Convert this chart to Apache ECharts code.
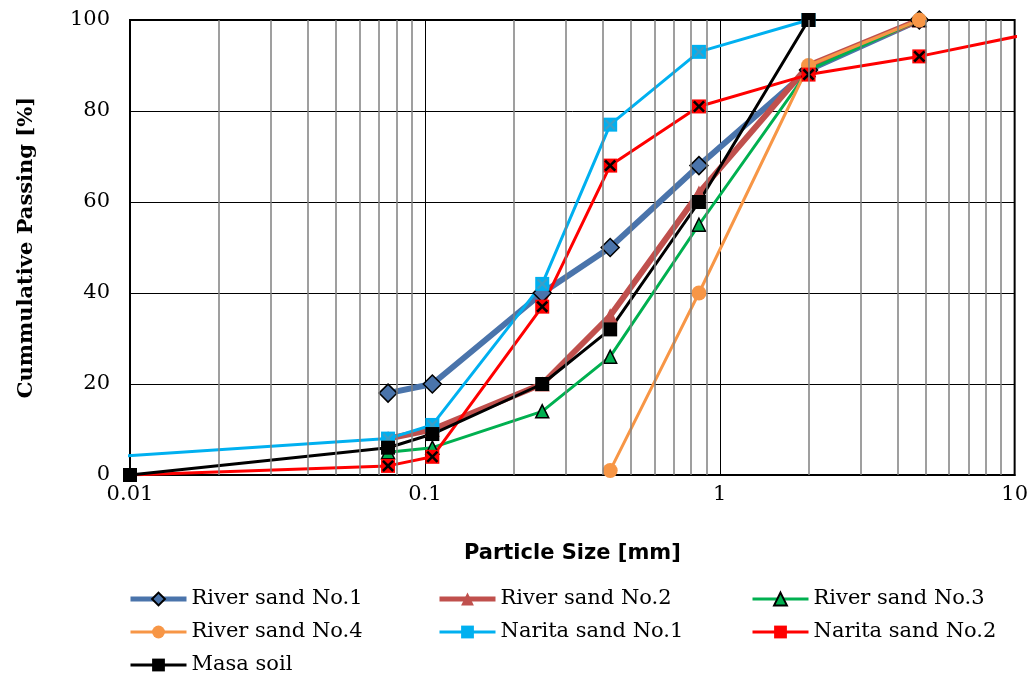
<!DOCTYPE html>
<html>
<head>
<meta charset="utf-8">
<script src="https://cdn.jsdelivr.net/npm/echarts@6/dist/echarts.min.js"></script>
<style>
  html, body { margin: 0; padding: 0; background: #fff; }
  #chart { width: 1031px; height: 686px; }
</style>
</head>
<body>
<div id="chart"></div>
<script>
// sieve sizes (mm) and passing (%)
const sieveSizes = [0.075, 0.106, 0.25, 0.425, 0.85, 2, 4.75]
const riverSand1 = [18, 20, 40, 50, 68, 89, 100]
const riverSand2 = [8, 10, 20, 35, 62, 90, 100]
const riverSand3 = [5, 6, 14, 26, 55, 89, 100]

const riverSand4Sizes = [0.425, 0.85, 2, 4.75]
const riverSand4 = [1, 40, 90, 100]

const naritaSand1Sizes = [0.001, 0.075, 0.106, 0.25, 0.425, 0.85, 2]
const naritaSand1 = [0, 8, 11, 42, 77, 93, 100]

const naritaSand2Sizes = [0.01, 0.075, 0.106, 0.25, 0.425, 0.85, 2, 4.75, 19]
const naritaSand2 = [0, 2, 4, 37, 68, 81, 88, 92, 100]

const masaSoilSizes = [0.01, 0.075, 0.106, 0.25, 0.425, 0.85, 2]
const masaSoil = [0, 6, 9, 20, 32, 60, 100]

const xTicks = [0.01, 0.1, 1, 10]

const pairs = (xs, ys) => xs.map((x, i) => [x, ys[i]])

// minor log grid lines 2..9 in each decade
const minorLines = []
for (let d = 0; d < xTicks.length - 1; d++) {
  for (let k = 2; k <= 9; k++) minorLines.push({ xAxis: xTicks[d] * k })
}

const serif = 'DejaVu Serif'
const xPath = 'path://M0,1.5L1.5,0L5,3.5L8.5,0L10,1.5L6.5,5L10,8.5L8.5,10L5,6.5L1.5,10L0,8.5L3.5,5Z'

function lineSeries(name, data, color, width, symbol, size, border) {
  return {
    name: name,
    type: 'line',
    data: data,
    symbol: symbol,
    symbolSize: size,
    lineStyle: { color: color, width: width },
    itemStyle: { color: color, borderColor: border || color, borderWidth: border ? 1.5 : 0 },
    emphasis: { disabled: true },
    animation: false
  }
}

// overlay of X marks on the square markers
function crossSeries(name, data, color, size) {
  return {
    name: name,
    type: 'line',
    data: data,
    symbol: xPath,
    symbolSize: size,
    lineStyle: { width: 0 },
    itemStyle: { color: color },
    emphasis: { disabled: true }
  }
}

const chart = echarts.init(document.getElementById('chart'))

const legendBase = {
  orient: 'vertical',
  top: 588,
  padding: 0,
  itemWidth: 56,
  itemHeight: 16,
  itemGap: 11,
  textStyle: { fontFamily: serif, fontSize: 21, color: '#000', lineHeight: 22 }
}

const thick = name => ({ name: name, lineStyle: { width: 5 } })
const mid = name => ({ name: name, lineStyle: { width: 3 } })

chart.setOption({
  animation: false,
  grid: {
    left: 130, right: 16, top: 20, bottom: 211,
    show: true, borderColor: '#000', borderWidth: 2
  },
  legend: [
    Object.assign({ left: 128, data: [thick('River sand No.1'), mid('River sand No.4'), mid('Masa soil')] }, legendBase),
    Object.assign({ left: 437, data: [thick('River sand No.2'), mid('Narita sand No.1')] }, legendBase),
    Object.assign({ left: 751, data: [mid('River sand No.3'), mid('Narita sand No.2')] }, legendBase)
  ],
  xAxis: {
    type: 'log',
    logBase: 10,
    min: 0.01,
    max: 10,
    name: 'Particle Size [mm]',
    nameLocation: 'middle',
    nameGap: 68,
    nameTextStyle: { fontFamily: 'DejaVu Sans', fontWeight: 'bold', fontSize: 21, color: '#000' },
    axisLine: { lineStyle: { color: '#000', width: 2 } },
    axisTick: { show: false },
    axisLabel: {
      fontFamily: serif, fontSize: 21, color: '#000', margin: 9,
      formatter: v => String(+v.toPrecision(3))
    },
    splitLine: { show: true, lineStyle: { color: '#000', width: 1 } }
  },
  yAxis: {
    type: 'value',
    min: 0,
    max: 100,
    interval: 20,
    name: 'Cummulative Passing [%]',
    nameLocation: 'middle',
    nameGap: 93,
    nameTextStyle: { fontFamily: serif, fontWeight: 'bold', fontSize: 21, color: '#000' },
    axisLine: { show: true, lineStyle: { color: '#000', width: 2 } },
    axisTick: { show: false },
    axisLabel: { fontFamily: serif, fontSize: 21, color: '#000', margin: 20 },
    splitLine: { show: true, lineStyle: { color: '#000', width: 1 } }
  },
  series: [
    {
      type: 'line',
      data: [],
      silent: true,
      markLine: {
        silent: true,
        symbol: 'none',
        label: { show: false },
        lineStyle: { color: '#7f7f7f', width: 1.5, type: 'solid' },
        data: minorLines,
        animation: false
      }
    },
    lineSeries('River sand No.1', pairs(sieveSizes, riverSand1), '#4a74ab', 6, 'diamond', 18, '#000'),
    lineSeries('River sand No.2', pairs(sieveSizes, riverSand2), '#c0504d', 6, 'triangle', 15),
    lineSeries('River sand No.3', pairs(sieveSizes, riverSand3), '#00b050', 3, 'triangle', 13, '#000'),
    lineSeries('River sand No.4', pairs(riverSand4Sizes, riverSand4), '#f79646', 3, 'circle', 15),
    lineSeries('Narita sand No.1', pairs(naritaSand1Sizes, naritaSand1), '#00b0f0', 3, 'rect', 14),
    crossSeries('Narita sand No.1', pairs(naritaSand1Sizes, naritaSand1), '#3a9fc8', 11),
    lineSeries('Narita sand No.2', pairs(naritaSand2Sizes, naritaSand2), '#ff0000', 3, 'rect', 14),
    crossSeries('Narita sand No.2', pairs(naritaSand2Sizes, naritaSand2), '#000', 12),
    lineSeries('Masa soil', pairs(masaSoilSizes, masaSoil), '#000', 3, 'rect', 14)
  ]
})
</script>
</body>
</html>
